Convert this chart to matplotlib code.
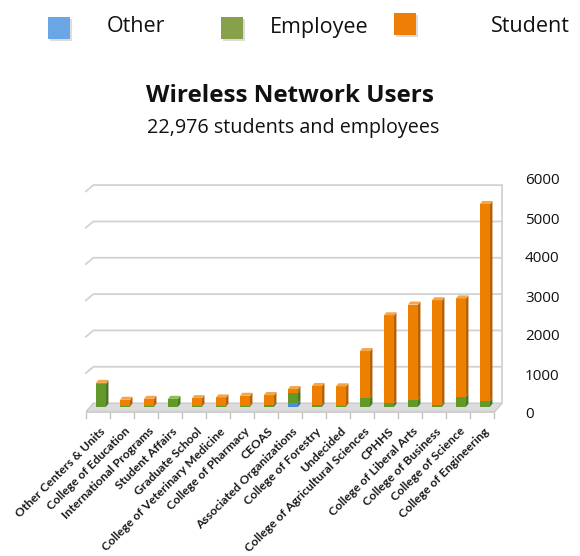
import matplotlib
matplotlib.use("Agg")
import matplotlib.pyplot as plt
from matplotlib.patches import Polygon, Rectangle
import numpy as np

categories = ["Other Centers & Units", "College of Education", "International Programs",
              "Student Affairs", "Graduate School", "College of Veterinary Medicine",
              "College of Pharmacy", "CEOAS", "Associated Organizations", "College of Forestry",
              "Undecided", "College of Agricultural Sciences", "CPHHS", "College of Liberal Arts",
              "College of Business", "College of Science", "College of Engineering"]
other = [0, 0, 0, 0, 0, 0, 0, 0, 95, 0, 0, 0, 0, 0, 0, 0, 0]
employee = [630, 10, 15, 215, 15, 15, 30, 60, 290, 50, 10, 240, 95, 190, 50, 280, 160]
student = [25, 180, 200, 0, 220, 240, 270, 260, 100, 520, 550, 1290, 2420, 2620, 2880, 2700, 5420]
series_names = ["Other", "Employee", "Student"]
yticks = [0, 1000, 2000, 3000, 4000, 5000, 6000]

# front / side / top colours per series
face = ["#4a8fd8", "#62992a", "#ee8000"]
side = ["#2f6db0", "#47761a", "#b85e00"]
top = ["#8dbcf0", "#8cbf55", "#f6a64a"]
legend_col = ["#6aa6e6", "#87a04a", "#ee7e06"]

W, H = 580, 556
fig = plt.figure(figsize=(W / 100, H / 100), dpi=100)
plt.rcParams['font.family'] = ['Open Sans', 'DejaVu Sans']

def px(x0, y0, x1, y1):
    return [x0 / W, 1 - y1 / H, (x1 - x0) / W, (y1 - y0) / H]

ax = fig.add_axes(px(83, 183.3, 504.2, 414))
ax.set_xlim(-0.75, 16.8)
ax.set_ylim(-200, 6150)
ax.axis("off")

n = len(categories)
x = np.arange(n)
bw = 0.42
dx, dy = 0.1, 85
back_dx, back_dy = 0.3, 100

# floor
floor = Polygon([(-0.62, -130), (16.42, -130), (16.42 + back_dx, back_dy), (-0.62 + back_dx, back_dy)],
                closed=True, fc="#dcdcdc", ec="#c4c4c4", lw=0.8, zorder=1)
ax.add_patch(floor)
ax.add_patch(Rectangle((-0.62, -185), 17.04, 55, fc="#cfcfcf", ec="none", zorder=1))

# gridlines with slanted stub on the left
gx0, gx1 = -0.62 + back_dx, 16.42 + back_dx
for v in yticks[1:]:
    ax.plot([-0.66, gx0, gx1], [v + back_dy - 190, v + back_dy, v + back_dy],
            color="#d2d2d2", lw=1.3, zorder=1, solid_capstyle="butt")
ax.plot([gx1, gx1], [back_dy, 6000 + back_dy], color="#d2d2d2", lw=1.3, zorder=1)

# ticks under the floor between categories
for i in range(n + 1):
    ax.plot([i - 0.62, i - 0.62], [-185, -320], color="#c4c4c4", lw=1.0, zorder=1, clip_on=False)

# stacked 3D-looking bars
stack = [other, employee, student]
bottoms = np.zeros(n)
tops_idx = np.zeros(n, dtype=int)
for s, vals in enumerate(stack):
    for i in range(n):
        if vals[i] > 0:
            tops_idx[i] = s
for s, vals in enumerate(stack):
    vals = np.array(vals, dtype=float)
    ax.bar(x, vals, width=bw, bottom=bottoms, color=face[s], lw=0, zorder=3)
    for i in range(n):
        if vals[i] <= 0:
            continue
        b, t = bottoms[i], bottoms[i] + vals[i]
        xr = x[i] + bw / 2
        ax.add_patch(Polygon([(xr, b), (xr + dx, b + dy), (xr + dx, t + dy), (xr, t)],
                             closed=True, fc=side[s], ec="none", zorder=3))
        if tops_idx[i] == s:
            xl = x[i] - bw / 2
            ax.add_patch(Polygon([(xl, t), (xr, t), (xr + dx, t + dy), (xl + dx, t + dy)],
                                 closed=True, fc=top[s], ec="none", zorder=3))
    bottoms = bottoms + vals

# category labels
for i, c in enumerate(categories):
    ax.text(x[i] - 0.05, -520, c, rotation=45, ha="right", va="top", rotation_mode="anchor",
            fontsize=8.7, fontweight="bold", family=["Lato", "DejaVu Sans"], color="#1a1a1a",
            clip_on=False)

# value axis labels on the right
lab = fig.add_axes(px(83, 179, 504.2, 413))
lab.set_ylim(0, 6000)
lab.set_xticks([])
lab.patch.set_visible(False)
for sp in lab.spines.values():
    sp.set_visible(False)
lab.yaxis.tick_right()
lab.set_yticks(yticks)
lab.set_yticklabels([str(v) for v in yticks])
lab.tick_params(axis="y", length=0, pad=15, labelsize=11, labelcolor="#111111")

# title
fig.text(0.5, 1 - 96 / H, "Wireless Network Users", ha="center", va="center",
         fontsize=17.5, fontweight="bold", color="#111111")
fig.text(0.505, 1 - 128 / H, "22,976 students and employees", ha="center", va="center",
         fontsize=14.2, color="#111111")

# legend
sq_x = [48, 221, 394]
sq_y = [17, 17, 13]
txt_x = [107, 270, 491]
for k, name in enumerate(series_names):
    fig.patches.append(Rectangle(((sq_x[k] + 2) / W, 1 - (sq_y[k] + 24) / H), 22 / W, 22 / H,
                                 transform=fig.transFigure, fc="#bbbbbb", ec="none", alpha=0.5))
    fig.patches.append(Rectangle((sq_x[k] / W, 1 - (sq_y[k] + 22) / H), 22 / W, 22 / H,
                                 transform=fig.transFigure, fc=legend_col[k], ec="none"))
    fig.text(txt_x[k] / W, 1 - 27 / H, name, ha="left", va="center", fontsize=15.5, color="#111111")

fig.savefig("out.png", dpi=100)
